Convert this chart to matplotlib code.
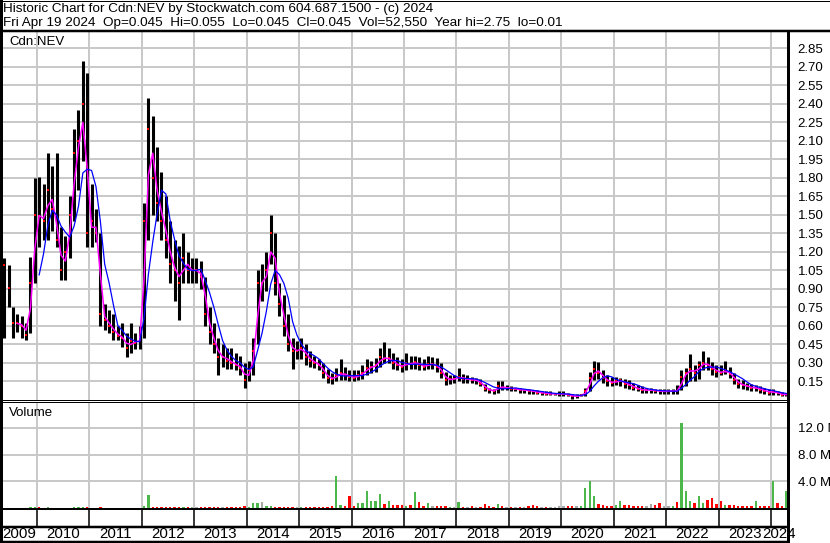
import numpy as np
import pandas as pd
import matplotlib
matplotlib.use("Agg")
import matplotlib.pyplot as plt

plt.rcParams['font.family'] = ['Liberation Sans', 'DejaVu Sans']

# monthly high / low / close, May 2009 .. Apr 2024 (one row per calendar year)
high = [
    1.15, 1.09, 0.75, 0.70, 0.68, 0.62, 1.16, 1.80,
    1.81, 1.75, 2.00, 1.90, 2.00, 1.40, 1.33, 1.65, 2.20, 2.35, 2.75, 2.65,
    1.75, 1.55, 1.35, 0.78, 0.73, 0.70, 0.60, 0.62, 0.54, 0.62, 0.54, 0.60,
    1.60, 2.45, 2.30, 2.05, 1.85, 1.65, 1.45, 1.30, 1.25, 1.35, 1.20, 1.15,
    1.15, 1.13, 1.00, 0.75, 0.62, 0.50, 0.45, 0.42, 0.42, 0.38, 0.36, 0.30,
    0.32, 0.50, 1.05, 1.10, 1.20, 1.50, 1.35, 0.95, 0.85, 0.70, 0.50, 0.48,
    0.50, 0.45, 0.40, 0.36, 0.33, 0.30, 0.25, 0.22, 0.26, 0.33, 0.27, 0.24,
    0.24, 0.24, 0.28, 0.33, 0.32, 0.34, 0.42, 0.47, 0.42, 0.38, 0.35, 0.33,
    0.38, 0.36, 0.36, 0.35, 0.33, 0.36, 0.35, 0.34, 0.30, 0.23, 0.20, 0.20,
    0.26, 0.21, 0.20, 0.19, 0.18, 0.17, 0.13, 0.10, 0.09, 0.15, 0.15, 0.12,
    0.11, 0.10, 0.10, 0.09, 0.09, 0.08, 0.08, 0.07, 0.07, 0.07, 0.06, 0.07,
    0.07, 0.06, 0.05, 0.05, 0.05, 0.10, 0.23, 0.32, 0.31, 0.24, 0.20, 0.19,
    0.19, 0.18, 0.17, 0.16, 0.14, 0.12, 0.11, 0.10, 0.10, 0.09, 0.09, 0.09,
    0.09, 0.09, 0.12, 0.24, 0.26, 0.37, 0.28, 0.32, 0.40, 0.35, 0.31, 0.28,
    0.28, 0.32, 0.27, 0.22, 0.17, 0.16, 0.14, 0.13, 0.12, 0.11, 0.10, 0.09,
    0.09, 0.07, 0.065, 0.06,
]
low = [
    0.50, 0.75, 0.50, 0.55, 0.50, 0.49, 0.54, 0.95,
    1.24, 1.30, 1.30, 1.37, 1.24, 0.97, 0.97, 1.15, 1.45, 1.70, 1.94, 1.24,
    1.24, 1.28, 0.60, 0.57, 0.54, 0.49, 0.49, 0.43, 0.35, 0.38, 0.41, 0.41,
    0.50, 1.30, 1.50, 1.45, 1.30, 1.15, 0.95, 0.80, 0.65, 0.95, 0.95, 0.95,
    0.95, 0.90, 0.60, 0.45, 0.38, 0.20, 0.27, 0.25, 0.25, 0.24, 0.20, 0.10,
    0.15, 0.20, 0.45, 0.80, 0.88, 1.10, 0.85, 0.68, 0.52, 0.40, 0.25, 0.33,
    0.33, 0.28, 0.27, 0.26, 0.24, 0.18, 0.14, 0.13, 0.15, 0.16, 0.16, 0.15,
    0.15, 0.16, 0.17, 0.20, 0.22, 0.23, 0.27, 0.30, 0.30, 0.25, 0.24, 0.23,
    0.24, 0.25, 0.25, 0.24, 0.24, 0.25, 0.25, 0.23, 0.18, 0.12, 0.13, 0.14,
    0.15, 0.14, 0.14, 0.14, 0.13, 0.11, 0.07, 0.06, 0.05, 0.06, 0.08, 0.08,
    0.07, 0.07, 0.06, 0.06, 0.05, 0.05, 0.05, 0.04, 0.04, 0.04, 0.04, 0.03,
    0.03, 0.03, 0.01, 0.02, 0.03, 0.03, 0.07, 0.16, 0.17, 0.14, 0.11, 0.11,
    0.12, 0.11, 0.10, 0.09, 0.08, 0.07, 0.06, 0.06, 0.06, 0.06, 0.05, 0.05,
    0.05, 0.05, 0.05, 0.08, 0.11, 0.15, 0.15, 0.17, 0.24, 0.24, 0.20, 0.19,
    0.20, 0.21, 0.18, 0.13, 0.10, 0.09, 0.08, 0.07, 0.07, 0.06, 0.05, 0.04,
    0.04, 0.04, 0.035, 0.035,
]
close = [
    1.09, 0.91, 0.62, 0.62, 0.60, 0.53, 0.95, 1.50,
    1.49, 1.45, 1.70, 1.55, 1.30, 1.05, 1.20, 1.50, 2.00, 2.10, 2.40, 1.35,
    1.45, 1.35, 0.70, 0.65, 0.60, 0.55, 0.52, 0.50, 0.42, 0.48, 0.46, 0.50,
    1.45, 2.20, 1.80, 1.60, 1.45, 1.30, 1.10, 1.05, 0.95, 1.15, 1.05, 1.05,
    1.05, 1.00, 0.70, 0.55, 0.45, 0.35, 0.35, 0.32, 0.30, 0.28, 0.26, 0.16,
    0.24, 0.40, 0.95, 0.95, 1.05, 1.35, 0.95, 0.78, 0.60, 0.45, 0.40, 0.40,
    0.42, 0.35, 0.32, 0.30, 0.28, 0.22, 0.18, 0.17, 0.20, 0.22, 0.20, 0.19,
    0.18, 0.20, 0.22, 0.26, 0.27, 0.28, 0.35, 0.33, 0.34, 0.30, 0.28, 0.27,
    0.30, 0.29, 0.31, 0.28, 0.27, 0.29, 0.29, 0.27, 0.22, 0.16, 0.17, 0.17,
    0.19, 0.17, 0.17, 0.16, 0.16, 0.13, 0.09, 0.08, 0.07, 0.11, 0.10, 0.10,
    0.09, 0.09, 0.08, 0.08, 0.075, 0.07, 0.06, 0.06, 0.05, 0.05, 0.05, 0.05,
    0.05, 0.04, 0.03, 0.03, 0.04, 0.07, 0.18, 0.25, 0.22, 0.18, 0.15, 0.14,
    0.15, 0.16, 0.13, 0.12, 0.10, 0.09, 0.08, 0.08, 0.08, 0.075, 0.07, 0.07,
    0.07, 0.075, 0.07, 0.19, 0.22, 0.25, 0.22, 0.28, 0.30, 0.28, 0.25, 0.23,
    0.22, 0.24, 0.21, 0.16, 0.13, 0.12, 0.11, 0.095, 0.10, 0.08, 0.075, 0.06,
    0.065, 0.055, 0.04, 0.045,
]
# largest daily volume in each month, millions of shares
volume = [
    0.05, 0.05, 0.05, 0.05, 0.05, 0.05, 0.08, 0.08,
    0.08, 0.06, 0.08, 0.06, 0.06, 0.05, 0.05, 0.06, 0.08, 0.08, 0.10, 0.08,
    0.06, 0.05, 0.08, 0.06, 0.05, 0.05, 0.05, 0.05, 0.06, 0.05, 0.05, 0.05,
    0.30, 1.90, 0.15, 0.10, 0.10, 0.08, 0.08, 0.10, 0.10, 0.15, 0.08, 0.08,
    0.08, 0.08, 0.10, 0.08, 0.08, 0.10, 0.08, 0.08, 0.08, 0.10, 0.15, 0.35,
    0.15, 0.80, 0.80, 0.95, 0.30, 0.25, 0.20, 0.15, 0.15, 0.20, 0.20, 0.15,
    0.15, 0.10, 0.15, 0.15, 0.20, 0.20, 0.20, 0.25, 4.85, 0.50, 0.30, 1.75,
    0.30, 0.80, 0.75, 2.60, 1.00, 1.10, 2.05, 0.65, 1.10, 0.45, 0.45, 0.40,
    0.30, 0.40, 2.40, 0.90, 0.35, 0.75, 0.30, 0.25, 0.30, 0.25, 0.20, 0.20,
    0.90, 0.20, 0.20, 0.25, 0.20, 0.20, 0.60, 0.25, 0.20, 0.60, 0.25, 0.20,
    0.20, 0.15, 0.20, 0.20, 0.25, 0.45, 0.30, 0.20, 0.20, 0.20, 0.20, 0.25,
    0.25, 0.30, 0.30, 0.25, 0.35, 3.00, 4.10, 1.85, 0.60, 0.40, 0.30, 0.30,
    0.40, 1.10, 0.50, 0.40, 0.30, 0.35, 0.30, 0.35, 0.60, 0.40, 0.70, 0.30,
    0.30, 0.30, 0.90, 12.75, 2.50, 1.10, 0.80, 1.85, 0.70, 1.25, 1.50, 0.60,
    1.10, 0.50, 0.40, 0.40, 0.30, 0.30, 0.30, 0.35, 1.10, 0.30, 0.35, 0.30,
    4.10, 0.75, 0.30, 2.50,
]
years = list(range(2009, 2025))

months = pd.period_range("2009-05", "2024-04", freq="M")
x = np.asarray(months.year + (months.month - 0.5) / 12)

s = pd.Series(close)
ma_short = s.rolling(2).mean().to_numpy()
ma_long = s.rolling(5).mean().to_numpy()
ma_short[x < 2009.6] = np.nan
ma_long[x < 2010.0] = np.nan

chg = s.diff().fillna(0).to_numpy()
vcol = np.where(chg > 0, '#4cb84c', np.where(chg < 0, '#ff0000', '#a8a8a8'))

W, H = 830, 543
fig = plt.figure(figsize=(W / 100, H / 100), dpi=100)


def box(x0, y0, x1, y1):
    return [x0 / W, 1 - y1 / H, (x1 - x0) / W, (y1 - y0) / H]


def hline(y, x0, x1, lw):
    fig.add_artist(plt.Line2D([x0 / W, x1 / W], [1 - y / H, 1 - y / H], color='black', lw=lw * 0.72))


def vline(x0, y0, y1, lw):
    fig.add_artist(plt.Line2D([x0 / W, x0 / W], [1 - y0 / H, 1 - y1 / H], color='black', lw=lw * 0.72))


xlim = (2009.333, 2024.324)
grid = dict(color='#c8c8c8', linewidth=1.4)

# price panel
ax = fig.add_axes(box(2, 32, 788, 400))
ax.set_xlim(xlim)
ax.set_ylim(0, 2.982)
ax.set_xticks(years[1:])
ax.set_yticks(np.arange(1, 20) * 0.15)
ax.set_yticklabels(['%.2f' % v for v in np.arange(1, 20) * 0.15])
ax.grid(True, **grid)
ax.set_axisbelow(True)
ax.yaxis.tick_right()
ax.tick_params(length=0, labelbottom=False, labelsize=9.5, pad=7)
for sp in ax.spines.values():
    sp.set_visible(False)
ax.vlines(x, low, high, color='black', linewidth=2.2)
ax.plot(x, close, 's', color='#ff0000', markersize=1.6, markeredgewidth=0)
ax.plot(x, ma_short, color='#ff00ff', linewidth=1.1)
ax.plot(x, ma_long, color='#0000ff', linewidth=0.9)

# volume panel
axv = fig.add_axes(box(2, 402, 788, 508))
axv.set_xlim(xlim)
axv.set_ylim(0, 15.9)
axv.set_xticks(years[1:])
axv.set_yticks([4, 8, 12])
axv.set_yticklabels(['4.0 M', '8.0 M', '12.0 M'])
axv.grid(True, **grid)
axv.set_axisbelow(True)
axv.yaxis.tick_right()
axv.tick_params(length=0, labelbottom=False, labelsize=9.5, pad=7)
for sp in axv.spines.values():
    sp.set_visible(False)
axv.bar(x, volume, width=0.045, color=vcol, linewidth=0)

# year strip
axy = fig.add_axes(box(2, 508, 788, 541))
axy.set_xlim(xlim)
axy.set_ylim(0, 1)
axy.axis('off')
axy.vlines(years[1:], 0.42, 1, color='black', linewidth=1.1)
for yr in years:
    a = max(yr, xlim[0])
    b = min(yr + 1, xlim[1])
    axy.text((a + b) / 2, 0.2, str(yr), ha='center', va='center', fontsize=10.8, clip_on=False)

# header
fig.text(3 / W, 1 - 9 / H, 'Historic Chart for Cdn:NEV by Stockwatch.com 604.687.1500 - (c) 2024',
         va='center', fontsize=9.7)
fig.text(3 / W, 1 - 23 / H,
         'Fri Apr 19 2024  Op=0.045  Hi=0.055  Lo=0.045  Cl=0.045  Vol=52,550  Year hi=2.75  lo=0.01',
         va='center', fontsize=9.7)
fig.text(9 / W, 1 - 42 / H, 'Cdn:NEV', va='center', fontsize=9.5)
fig.text(9 / W, 1 - 413 / H, 'Volume', va='center', fontsize=9.5)

# frame lines
hline(0.5, 0, 830, 1)
vline(829.5, 0, 31, 1)
hline(31, 0, 830, 2.5)
vline(1, 0, 543, 3)
vline(788, 31, 543, 3)
hline(399.5, 0, 788, 1)
hline(402, 0, 788, 1)
hline(509, 0, 788, 2)
hline(527, 0, 788, 2.5)
hline(541.5, 0, 788, 2.5)

fig.savefig('out.png', dpi=100)
